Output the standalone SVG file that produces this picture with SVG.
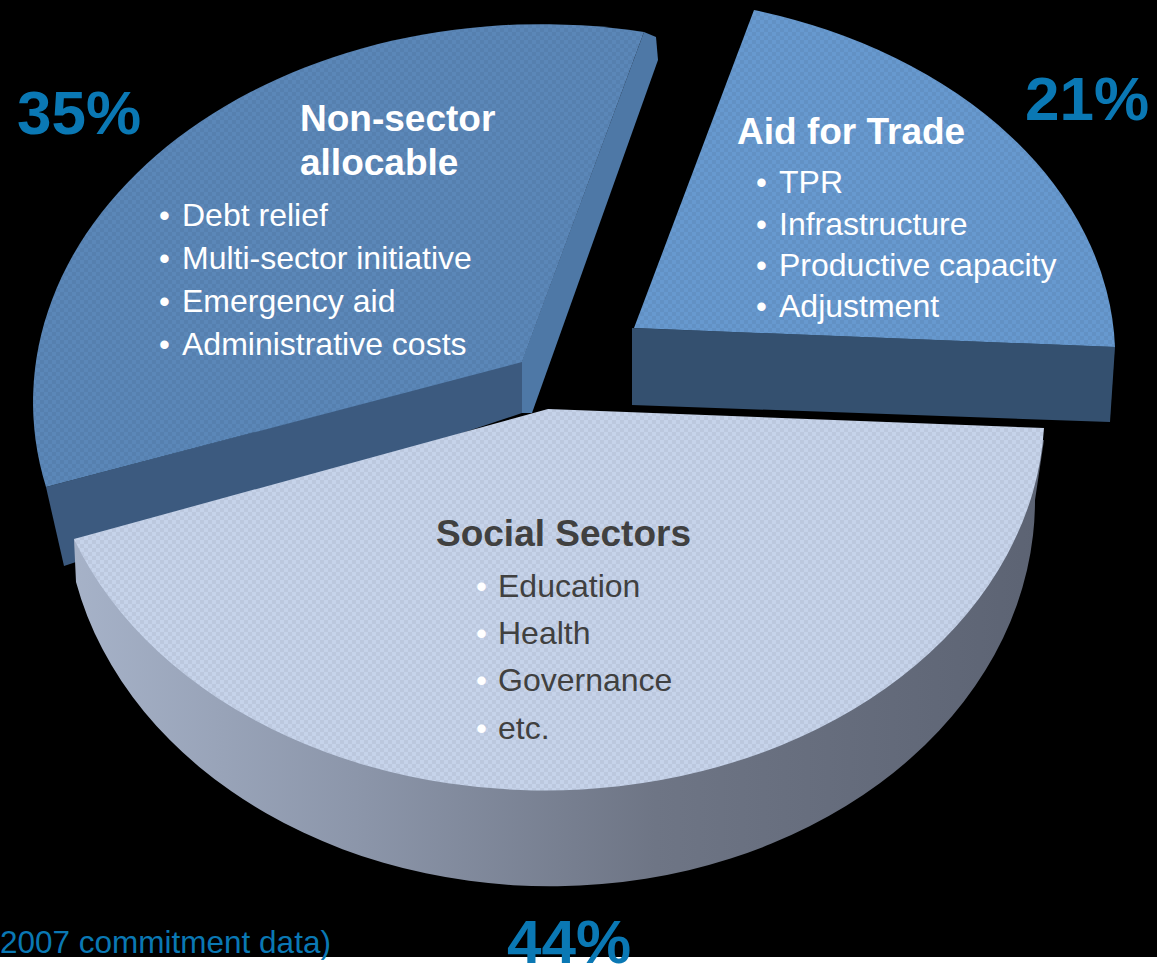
<svg xmlns="http://www.w3.org/2000/svg" width="1157" height="966" viewBox="0 0 1157 966">
  <style>
    .pct { font-family: "Liberation Sans", Arial, sans-serif; font-weight: bold; font-size: 62px; fill: #0a78b4; }
    .title { font-family: "Liberation Sans", Arial, sans-serif; font-weight: bold; font-size: 37px; fill: #ffffff; }
    .titleDark { font-family: "Liberation Sans", Arial, sans-serif; font-weight: bold; font-size: 37px; fill: #404040; }
    .item { font-family: "Liberation Sans", Arial, sans-serif; font-size: 32px; fill: #ffffff; }
    .itemDark { font-family: "Liberation Sans", Arial, sans-serif; font-size: 32px; fill: #404040; }
    .bullet { font-family: "Liberation Sans", Arial, sans-serif; font-size: 31px; fill: #ffffff; }
    .note { font-family: "Liberation Sans", Arial, sans-serif; font-size: 31.5px; fill: #0a78b4; }
  </style>
  <defs>
    <linearGradient id="wallGrad" x1="0" y1="0" x2="1" y2="0">
      <stop offset="0" stop-color="#a6b2c8"/>
      <stop offset="0.3" stop-color="#8b95a9"/>
      <stop offset="0.6" stop-color="#6e7585"/>
      <stop offset="1" stop-color="#5c6373"/>
    </linearGradient>
    <pattern id="dither" x="0" y="0" width="8" height="8" patternUnits="userSpaceOnUse">
      <rect x="0" y="0" width="4" height="4" fill="#000000" fill-opacity="0.05"/>
      <rect x="4" y="4" width="4" height="4" fill="#000000" fill-opacity="0.05"/>
    </pattern>
  </defs>

  <rect x="0" y="0" width="1157" height="957" fill="#000000"/>
  <rect x="0" y="957" width="1157" height="9" fill="#ffffff"/>

  <g id="non-sector">
    <polygon points="522,361 644,32 656,37 658,60 532,413 522,413" fill="#4e78a6"/>
    <polygon points="46,487 522,361 522,413 64,566" fill="#3c5a7f"/>
    <path d="M522,362 L46,487 A508 378 0 0 1 644,32 Z" fill="#5b87b8"/>
    <path d="M522,362 L46,487 A508 378 0 0 1 644,32 Z" fill="url(#dither)"/>
    <text class="title" x="300" y="131">Non-sector</text>
    <text class="title" x="300" y="175">allocable</text>
    <text class="bullet" x="159" y="226">•</text><text class="item" x="182" y="226">Debt relief</text>
    <text class="bullet" x="159" y="269">•</text><text class="item" x="182" y="269">Multi-sector initiative</text>
    <text class="bullet" x="159" y="312">•</text><text class="item" x="182" y="312">Emergency aid</text>
    <text class="bullet" x="159" y="355">•</text><text class="item" x="182" y="355">Administrative costs</text>
  </g>

  <g id="aid-for-trade">
    <polygon points="632,328 1115,347 1110,422 632,405" fill="#34506f"/>
    <path d="M634,328 L754,10 A500 362 0 0 1 1115,347 Z" fill="#6799cf"/>
    <path d="M634,328 L754,10 A500 362 0 0 1 1115,347 Z" fill="url(#dither)"/>
    <text class="title" x="737" y="144">Aid for Trade</text>
    <text class="bullet" x="756" y="193">•</text><text class="item" x="779" y="193">TPR</text>
    <text class="bullet" x="756" y="235">•</text><text class="item" x="779" y="235">Infrastructure</text>
    <text class="bullet" x="756" y="276">•</text><text class="item" x="779" y="276">Productive capacity</text>
    <text class="bullet" x="756" y="317">•</text><text class="item" x="779" y="317">Adjustment</text>
  </g>

  <g id="social-sectors">
    <path d="M74,539 L76,582 A485 386 0 0 0 1035,500 L1044,440 Z" fill="url(#wallGrad)"/>
    <path d="M548,409 L74,539 A500 380 0 0 0 1044,428 Z" fill="#c6d3ea"/>
    <path d="M548,409 L74,539 A500 380 0 0 0 1044,428 Z" fill="url(#dither)"/>
    <text class="titleDark" x="436" y="546">Social Sectors</text>
    <text class="bullet" x="476" y="597">•</text><text class="itemDark" x="498" y="597">Education</text>
    <text class="bullet" x="476" y="644">•</text><text class="itemDark" x="498" y="644">Health</text>
    <text class="bullet" x="476" y="691">•</text><text class="itemDark" x="498" y="691">Governance</text>
    <text class="bullet" x="476" y="739">•</text><text class="itemDark" x="498" y="739">etc.</text>
  </g>

  <g id="labels">
    <text class="pct" x="17" y="134">35%</text>
    <text class="pct" x="1025" y="120">21%</text>
    <text class="pct" x="507" y="963">44%</text>
    <text class="note" x="0" y="953">2007 commitment data)</text>
  </g>
  <g id="connectors"/>
</svg>
